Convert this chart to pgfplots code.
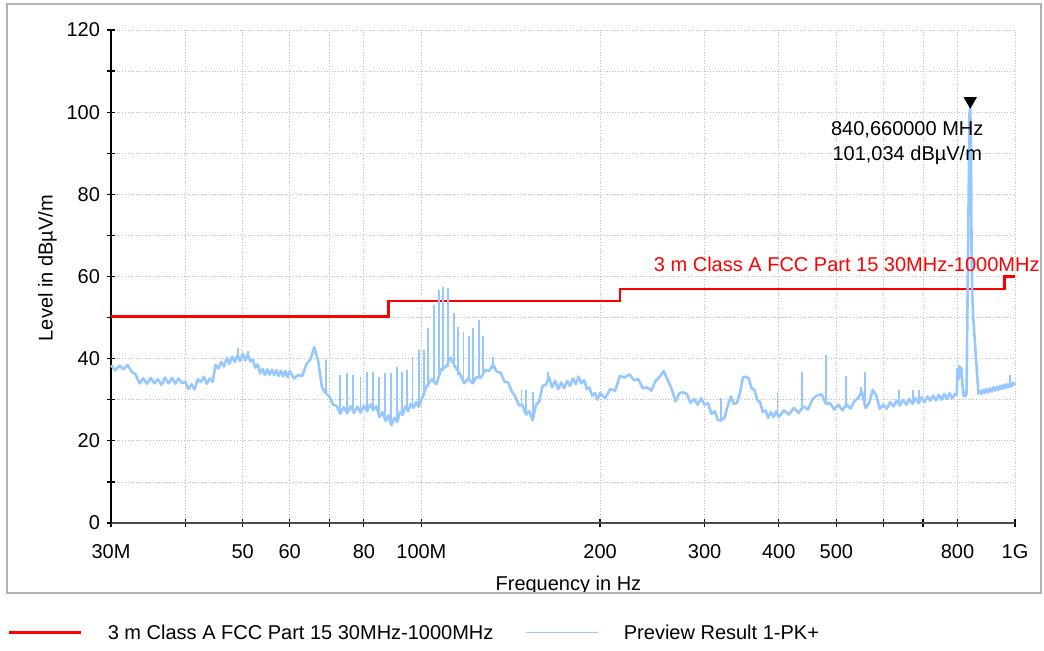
\documentclass[border=0pt]{standalone}
\usepackage{fontspec}
\setmainfont{Liberation Sans}
\usepackage{pgfplots}
\pgfplotsset{compat=1.18}
\definecolor{tracecol}{RGB}{150,200,255}
\definecolor{limcol}{RGB}{255,0,0}
\begin{document}
\begin{tikzpicture}
\useasboundingbox (-55.5pt,-63.5pt) rectangle (466.5pt,261.5pt);
\begin{axis}[
  at={(0,0)}, anchor=south west,
  scale only axis, width=452pt, height=246.5pt,
  xmode=log, xmin=30, xmax=1000, ymin=0, ymax=120,
  clip=false,
  axis x line=bottom, axis y line=left, axis line style={-},
  x axis line style={draw=black!70, line width=1pt},
  y axis line style={draw=black, line width=0.75pt},
  xtick={30,40,50,60,70,80,100,200,300,400,500,600,700,800,1000},
  xticklabels={30M,,50,60,,80,100M,200,300,400,500,,,800,1G},
  xminorticks=false,
  ytick={0,20,...,120}, minor ytick={10,30,...,110},
  xmajorgrids, ymajorgrids, yminorgrids,
  major grid style={densely dotted, black!25, line width=0.4pt},
  minor grid style={densely dotted, black!25, line width=0.4pt},
  tick align=center, major tick length=4pt, minor tick length=4pt,
  tick style={black, line width=0.6pt},
  xticklabel style={yshift=-5pt},
  yticklabel style={/pgf/number format/assume math mode=true},
  xlabel={Frequency in Hz},
  xlabel style={at={(axis description cs:0.506,-0.1359)}, anchor=base, inner sep=0pt},
  ylabel={Level in dBµV/m},
  ylabel style={at={(axis description cs:-0.0702,0.517)}, anchor=center, inner sep=0pt},
  legend columns=2,
  legend style={at={(-0.1139,-0.2211)}, anchor=west, draw=none, fill=none,
    inner xsep=0pt, inner ysep=0pt, outer sep=0pt,
    cells={anchor=base west}, nodes={inner sep=0pt, text depth=0pt},
    /tikz/every odd column/.append style={column sep=12.5pt},
    /tikz/every even column/.append style={column sep=16pt}},
  unbounded coords=jump,
]
% limit line
\addplot[limcol, line width=1.25pt, legend image code/.code={\draw[limcol, line width=1.4pt] (0pt,3.4pt) -- (36pt,3.4pt);}] coordinates {(30,50.3) (88,50.3) (88,54) (216,54) (216,56.9) (960,56.9) (960,60) (1000,60)};
\addlegendentry{3 m Class A FCC Part 15 30MHz-1000MHz}
% preview trace
\addplot[tracecol, line width=1.3pt, line join=round, legend image code/.code={\draw[tracecol, line width=0.7pt] (0pt,3.4pt) -- (36pt,3.4pt);}] coordinates {
(30,38.4)(30.5,37.2)(31,38.3)(31.5,37.4)(32,38.5)(32.5,36.8)(33,36.2)(33.5,34.0)(34,35.2)(34.5,33.9)
(35,35.3)(35.5,34.0)(36,35.0)(36.5,33.6)(37,35.4)(37.5,34.0)(38,35.3)(38.5,33.9)(39,35.2)(39.5,34.0)
(40,34.4)(40.5,32.6)(41,33.8)(41.5,32.5)(42,35.0)(42.5,34.3)(43,35.6)(43.5,33.9)(44,35.2)(44.5,34.4)
(45,38.5)(45.5,37.6)(46,39.2)(46.5,38.1)(47,40.2)(47.5,38.7)(48,40.5)(48.5,39.2)(49,40.8)(49.5,39.4)
(50,41.2)(50.5,39.6)(51,41.0)(51.5,39.3)(52,39.8)(52.5,37.8)(53,38.6)(53.5,36.4)(54,37.5)(54.5,36.0)
(55,37.4)(55.5,36.1)(56,37.3)(56.5,36.0)(57,37.2)(57.5,35.8)(58,37.1)(58.5,35.7)(59,37.0)(59.5,35.5)
(60,37.0)(61,35.2)(62,36.0)(63,35.8)(64,38.6)(65,39.8)(66,42.8)(67,39.5)(68,33.0)(69,31.6)
(70,30.8)(71,28.8)(72,28.5)(73,26.6)(74,28.2)(75,26.7)(76,28.4)(77,26.8)(78,28.3)(79,26.9)
(80,28.6)(81,27.2)(82,28.9)(83,27.5)(84,28.4)(85,25.8)(86,27.0)(87,24.9)(88,26.2)(89,23.8)
(90,25.6)(91,24.6)(92,27.0)(93,26.3)(94,28.4)(95,27.2)(96,29.0)(97,28.0)(98,29.4)(99,28.3)
(100,30.0)(102,33.2)(104,35.0)(106,33.8)(108,37.5)(110,38.0)(112,40.3)(114,38.0)(116,36.4)(118,34.0)
(120,35.2)(122,34.0)(124,35.6)(126,35.4)(128,37.2)(130,37.0)(132,38.6)(134,36.8)(136,36.6)(138,34.4)
(140,34.2)(142,32.0)(144,30.8)(146,28.6)(148,28.8)(150,26.4)(152,27.2)(154,25.0)(156,28.8)(158,29.6)
(160,33.4)(162,33.6)(164,35.6)(166,33.0)(168,34.6)(170,32.6)(172,34.2)(174,32.8)(176,34.6)(178,33.4)
(180,35.2)(182,33.8)(184,35.6)(186,34.0)(188,34.8)(190,32.6)(192,33.0)(194,31.0)(196,31.6)(198,30.0)
(200,31.6)(204,30.4)(208,32.6)(212,32.2)(216,35.8)(220,35.4)(224,36.2)(228,34.8)(232,35.0)(236,32.8)
(240,33.0)(244,32.2)(248,34.6)(252,35.6)(256,37.0)(260,34.8)(264,32.6)(268,29.6)(272,31.6)(276,31.8)
(280,31.4)(284,29.2)(288,30.2)(292,28.8)(296,30.4)(300,28.8)(304,29.2)(308,26.6)(312,27.2)(316,25.0)
(320,25.0)(324,25.6)(328,28.4)(332,30.8)(336,29.0)(340,29.2)(344,31.6)(348,35.4)(352,35.6)(356,35.2)
(360,32.8)(364,32.4)(368,30.0)(372,29.4)(376,27.0)(380,27.4)(384,25.6)(388,27.0)(392,25.8)(396,27.2)
(400,25.8)(408,27.4)(416,26.4)(424,28.0)(432,26.8)(440,28.4)(448,27.6)(456,30.2)(464,31.0)(472,31.4)
(480,29.0)(488,29.2)(496,27.6)(504,28.8)(512,27.4)(520,29.0)(528,27.8)(536,29.6)(544,30.4)(552,32.0)
(560,28.0)(568,29.2)(576,32.4)(584,31.0)(592,27.8)(600,28.8)(608,27.8)(616,29.4)(624,28.4)(632,29.8)
(640,28.6)(648,30.0)(656,28.8)(664,30.2)(672,29.0)(680,30.4)(688,29.2)(696,30.6)(704,29.4)(712,30.8)
(720,29.8)(728,31.0)(736,29.8)(744,31.2)(752,30.0)(760,31.4)(768,30.2)(776,31.6)(784,30.4)(792,31.4)
(798,31.2)(800,37.5)(803,35.0)(806,38.2)(809,35.5)(812,37.8)(815,34.5)(818,31.0)(821,32.0)(824,30.8)
(828.6,31.5)(838.4,100.0)(840.66,101.034)(843.2,92.0)(844.9,66.0)(847,56.5)(850,50.5)(856.4,43.5)(863,36.5)(868,31.5)
(872,32.2)(878,31.4)(884,32.4)(890,31.6)(896,32.6)(902,31.8)(908,32.8)(914,32.0)(920,33.0)(926,32.2)
(932,33.2)(938,32.4)(944,33.4)(950,32.6)(956,33.6)(962,32.8)(968,33.8)(974,33.0)(980,34.0)(986,33.2)
(992,34.2)(1000,33.6)
};
\addlegendentry{Preview Result 1-PK+}
% narrow spikes of the preview trace
\addplot[tracecol, line width=0.9pt, forget plot] coordinates {
(49.1,40)(49.1,42.6)(49.1,nan)(51.1,40.3)(51.1,41.8)(51.1,nan)
(69.0,31.5)(69.0,39.7)(69.0,nan)(72.9,27.5)(72.9,36)(72.9,nan)(74.9,27.5)(74.9,36.5)(74.9,nan)
(76.8,27.5)(76.8,36)(76.8,nan)(79.0,27.5)(79.0,35.6)(79.0,nan)(80.9,27.5)(80.9,36.8)(80.9,nan)
(82.8,27.8)(82.8,36.8)(82.8,nan)(84.9,27)(84.9,35.6)(84.9,nan)(86.8,26)(86.8,36.5)(86.8,nan)
(88.8,25)(88.8,36.5)(88.8,nan)(91.1,25)(91.1,38)(91.1,nan)(92.7,26.5)(92.7,36.8)(92.7,nan)
(94.5,27.5)(94.5,37.3)(94.5,nan)(96.6,28.2)(96.6,40.5)(96.6,nan)(99.1,28.8)(99.1,42.1)(99.1,nan)
(101.0,31)(101.0,42.1)(101.0,nan)(102.7,33)(102.7,47.4)(102.7,nan)(105.0,34)(105.0,53)(105.0,nan)
(107.1,36)(107.1,56.7)(107.1,nan)(108.9,37)(108.9,57.5)(108.9,nan)(111.0,38)(111.0,57.2)(111.0,nan)
(113.5,38)(113.5,51.1)(113.5,nan)(115.4,36)(115.4,47.8)(115.4,nan)(117.7,34.5)(117.7,46.6)(117.7,nan)
(120.3,34.5)(120.3,45.4)(120.3,nan)(122.3,34.5)(122.3,47.4)(122.3,nan)(125.0,35.5)(125.0,49.4)(125.0,nan)
(126.9,36)(126.9,45.4)(126.9,nan)(132.2,37.5)(132.2,40.5)(132.2,nan)
(147.5,28.5)(147.5,32.4)(147.5,nan)(150.0,27)(150.0,32.4)(150.0,nan)(154.3,26)(154.3,32)(154.3,nan)
(163.6,34.5)(163.6,36.8)(163.6,nan)
(319.3,25)(319.3,30.4)(319.3,nan)(397.9,26.5)(397.9,31.7)(397.9,nan)(438.1,27.5)(438.1,36.8)(438.1,nan)
(480.3,29.5)(480.3,40.9)(480.3,nan)(519.1,28)(519.1,35.8)(519.1,nan)(550.4,31)(550.4,33.2)(550.4,nan)
(558.2,29)(558.2,36.8)(558.2,nan)(638.4,29)(638.4,32.4)(638.4,nan)(673.3,29.5)(673.3,32.4)(673.3,nan)
(689.9,29.5)(689.9,32.4)(689.9,nan)(980.9,33.5)(980.9,36)
};
% peak marker
\addplot[only marks, mark=triangle*, mark size=3.5pt, mark options={yshift=3.5pt, rotate=180, fill=black, draw=black}, forget plot] coordinates {(840.66,101.034)};
\node[anchor=north, align=center, inner sep=0pt, xshift=-31.5pt, yshift=-6.5pt, font=\fontsize{10}{12.5}\selectfont] at (axis cs:840.66,101.034) {840,660000 MHz\\101,034 dBµV/m};
\node[anchor=base east, text=limcol, inner sep=0pt, xshift=12.5pt] at (axis cs:1000,61.3) {3 m Class A FCC Part 15 30MHz-1000MHz};
\end{axis}
\draw[black!30, line width=0.8pt] (-52pt,-35pt) rectangle (465pt,259.5pt);
\fill[white] (170pt,-35.4pt) rectangle (290pt,-40pt);
\end{tikzpicture}
\end{document}
